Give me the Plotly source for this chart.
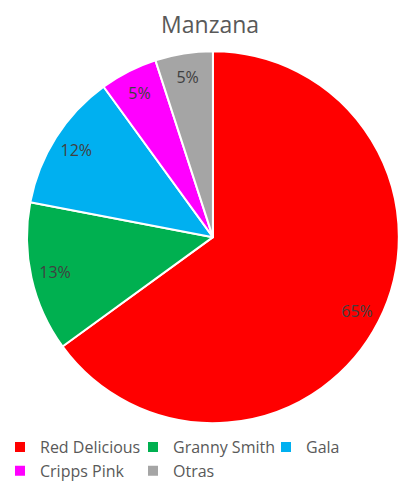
import plotly.graph_objects as go

labels = ["Red Delicious", "Granny Smith", "Gala", "Cripps Pink", "Otras"]
values = [65, 13, 12, 5, 5]
colors = ["#FF0000", "#00B050", "#00B0F0", "#FF00FF", "#A5A5A5"]

dom = dict(x=[0.064, 0.990], y=[0.133, 0.895])

fig = go.Figure()
fig.add_trace(go.Pie(
    labels=labels,
    values=values,
    sort=False,
    direction="clockwise",
    rotation=0,
    marker=dict(colors=colors, line=dict(color="white", width=2)),
    textinfo="none",
    domain=dom,
    hoverinfo="label+percent",
))
# transparent ring used only to place percentage labels near the outer edge
fig.add_trace(go.Pie(
    labels=labels,
    values=values,
    sort=False,
    direction="clockwise",
    rotation=0,
    hole=0.74,
    marker=dict(colors=["rgba(0,0,0,0)"] * len(labels), line=dict(width=0)),
    texttemplate="%{percent:.0%}",
    textposition="inside",
    insidetextorientation="horizontal",
    textfont=dict(family="Open Sans", size=16, color="#404040"),
    domain=dom,
    showlegend=False,
    hoverinfo="skip",
))

fig.update_layout(
    width=404, height=488,
    margin=dict(l=0, r=0, t=0, b=0),
    paper_bgcolor="white",
    plot_bgcolor="white",
    title=dict(text="Manzana", x=0.52, xanchor="center", y=0.949, yanchor="middle",
               font=dict(family="Open Sans", size=23, color="#595959")),
    legend=dict(orientation="h", x=0.0, xanchor="left", y=0.0, yanchor="bottom",
                entrywidth=88, entrywidthmode="pixels",
                font=dict(family="Open Sans", size=16, color="#595959"),
                itemwidth=30, traceorder="normal"),
)

fig.write_html("out.html", config={"displayModeBar": False},
               post_script="document.body.style.margin='0';")
